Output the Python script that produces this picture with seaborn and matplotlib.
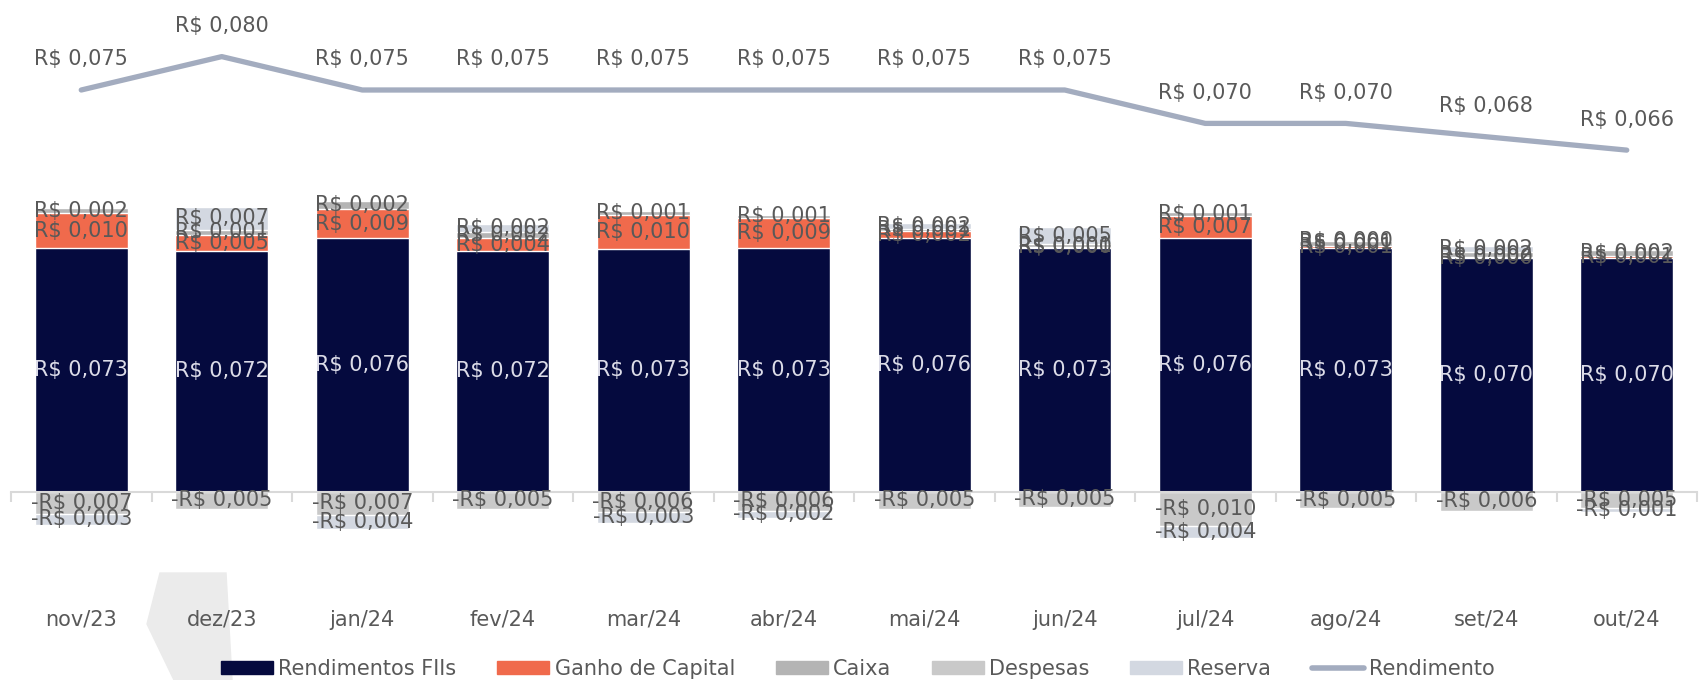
import numpy as np
import seaborn as sns
import matplotlib.pyplot as plt
from matplotlib.patches import Patch, Polygon
from matplotlib.lines import Line2D

# dados (R$ por cota)
meses = ['nov/23', 'dez/23', 'jan/24', 'fev/24', 'mar/24', 'abr/24',
         'mai/24', 'jun/24', 'jul/24', 'ago/24', 'set/24', 'out/24']
rend_fiis = [0.073, 0.072, 0.076, 0.072, 0.0727, 0.073, 0.076, 0.073, 0.076, 0.073, 0.070, 0.070]
ganho_capital = [0.0104, 0.0050, 0.0086, 0.0039, 0.0102, 0.0090, 0.0020, 0.0003, 0.0066, 0.0007, 0.0002, 0.0007]
caixa = [0.0016, 0.0014, 0.0024, 0.0018, 0.0013, 0.0010, 0.0008, 0.0008, 0.0012, 0.0014, 0.0016, 0.0018]
despesas = [-0.0066, -0.0053, -0.0070, -0.0053, -0.0060, -0.0058, -0.0053, -0.0047, -0.0103, -0.0050, -0.0058, -0.0050]
reserva = [-0.0033, 0.0070, -0.0043, 0.0024, -0.0034, -0.0020, 0.0017, 0.0052, -0.0036, 0.0002, 0.0017, -0.0010]
rendimento = [0.075, 0.080, 0.075, 0.075, 0.075, 0.075, 0.075, 0.075, 0.070, 0.070, 0.068, 0.066]

series_nomes = ['Rendimentos FIIs', 'Ganho de Capital', 'Caixa', 'Despesas', 'Reserva']
series = [rend_fiis, ganho_capital, caixa, despesas, reserva]
cores = ['#050a3e', '#f06a4c', '#b4b4b4', '#c9c9c9', '#d3d8e1']
cor_linha = '#a3acbf'
cor_texto = '#595959'

W, H = 1703, 680


def fmt(v):
    s = f"R$ {abs(v):.3f}".replace('.', ',')
    return '-' + s if v < 0 else s


sns.set_theme(style='white')
plt.rcParams['font.family'] = ['DejaVu Sans']

fig = plt.figure(figsize=(W / 100, H / 100), dpi=100)
ax = fig.add_axes([11 / W, 1 - 560 / H, 1686 / W, 560 / H])

vals = np.array(series)
pos = np.clip(vals, 0, None)
neg = np.clip(vals, None, 0)
cum_pos = np.cumsum(pos, axis=0)
cum_neg = np.cumsum(neg, axis=0)

# barras empilhadas: desenha do acumulado maior para o menor
for k in reversed(range(len(series))):
    if pos[k].any():
        sns.barplot(x=meses, y=cum_pos[k], color=cores[k], width=0.66,
                    saturation=1, errorbar=None, ax=ax)
for k in reversed(range(len(series))):
    if neg[k].any():
        sns.barplot(x=meses, y=cum_neg[k], color=cores[k], width=0.66,
                    saturation=1, errorbar=None, ax=ax)

# rótulos dos segmentos
for k in range(len(series)):
    for i in range(len(meses)):
        v = vals[k, i]
        if v == 0:
            continue
        if v > 0:
            yc = cum_pos[k, i] - v / 2
        else:
            yc = cum_neg[k, i] - v / 2
        cor = '#dcdce8' if k == 0 else cor_texto
        ax.text(i, yc, fmt(v), ha='center', va='center', fontsize=15, color=cor)

ax.set_ylim(-(560 - 491.5) / 3336, 491.5 / 3336)
ax.set_xlim(-0.5, len(meses) - 0.5)
for s in ['top', 'left', 'right']:
    ax.spines[s].set_visible(False)
ax.spines['bottom'].set_position(('data', 0))
ax.spines['bottom'].set_color('#d9d9d9')
ax.spines['bottom'].set_linewidth(1.5)
ax.set_yticks([])
ax.set_xticks(range(len(meses)))
ax.set_xticklabels(meses)
ax.set_xticks(np.arange(-0.5, len(meses), 1), minor=True)
ax.tick_params(axis='x', which='major', length=0, pad=85, labelsize=15, labelcolor=cor_texto)
ax.tick_params(axis='x', which='minor', bottom=True, length=7, width=1.5,
               color='#d9d9d9', direction='out')
ax.set_xlabel('')
ax.set_ylabel('')

# linha de rendimento no eixo secundário
ax2 = ax.twinx()
sns.lineplot(x=np.arange(len(meses)), y=rendimento, color=cor_linha, lw=3.8, ax=ax2)
ax2.set_xlim(-0.5, len(meses) - 0.5)
ax2.set_ylim(0.075 - 470 / 6680, 0.075 + 90 / 6680)
ax2.axis('off')
for i, v in enumerate(rendimento):
    ax2.annotate(fmt(v), (i, v), xytext=(0, 22), textcoords='offset points',
                 ha='center', va='center', fontsize=15, color=cor_texto)

# forma decorativa no rodapé
pts = [(147, 624), (160, 573), (226, 573), (232, 680), (174, 680)]
fig.add_artist(Polygon([(x / W, 1 - y / H) for x, y in pts], closed=True,
                       transform=fig.transFigure, color='#ebebeb', zorder=-1))

handles = [Patch(color=c) for c in cores] + [Line2D([], [], color=cor_linha, lw=4)]
labels = series_nomes + ['Rendimento']
fig.legend(handles, labels, loc='center', bbox_to_anchor=(858 / W, 1 - 669 / H),
           ncol=6, frameon=False, fontsize=15, handlelength=2.5, handleheight=0.6,
           handletextpad=0.25, columnspacing=1.95, labelcolor=cor_texto)

fig.savefig('out.png', dpi=100)
